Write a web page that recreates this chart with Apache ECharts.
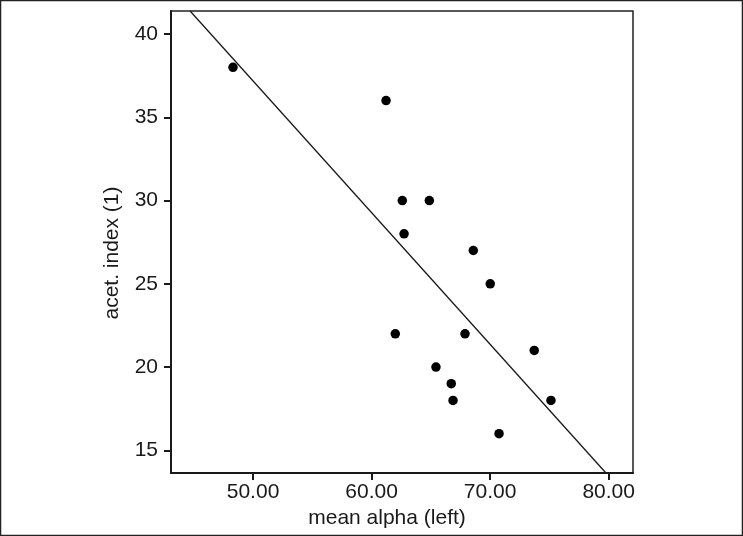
<!DOCTYPE html>
<html><head><meta charset="utf-8">
<script src="https://cdn.jsdelivr.net/npm/echarts@6/dist/echarts.min.js"></script>
<style>html,body{margin:0;padding:0;background:#fff}#c{width:743px;height:536px}</style>
</head><body><div id="c"></div>
<script>
var meanAlpha = [48.31, 61.22, 62.59, 64.87, 62.74, 68.58, 70.01, 62.0, 67.88, 73.72, 65.43, 66.72, 66.87, 75.13, 70.75];
var acetIndex = [38, 36, 30, 30, 28, 27, 25, 22, 22, 21, 20, 19, 18, 18, 16];
var fitX = [44.69, 79.77];
var fitY = [41.38, 13.64];
var xTicks = [50, 60, 70, 80];
var yTicks = [15, 20, 25, 30, 35, 40];

var points = meanAlpha.map(function (x, i) { return [x, acetIndex[i]]; });
var fitLine = fitX.map(function (x, i) { return [x, fitY[i]]; });
var font = '"Liberation Sans", Arial, sans-serif';
var chart = echarts.init(document.getElementById('c'));
chart.setOption({
  animation: false,
  backgroundColor: '#fff',
  graphic: [{ type: 'rect', shape: { x: 0.5, y: 0.5, width: 742, height: 535 }, style: { fill: null, stroke: '#222', lineWidth: 1.5 }, silent: true }],
  grid: { left: 171, top: 11, right: 110, bottom: 63, show: true, borderColor: '#222', borderWidth: 1.5, backgroundColor: 'transparent' },
  xAxis: {
    type: 'value', min: 43.08, max: 82.05,
    name: 'mean alpha (left)', nameLocation: 'middle', nameGap: 30,
    nameTextStyle: { fontFamily: font, fontSize: 21, color: '#1a1a1a', padding: [0, 30, 0, 0] },
    axisLine: { show: true, onZero: false, lineStyle: { color: '#1a1a1a', width: 2 } },
    axisTick: { show: true, length: 7, customValues: xTicks, lineStyle: { color: '#1a1a1a', width: 2 } },
    axisLabel: { customValues: xTicks, margin: 9, fontFamily: font, fontSize: 21, color: '#1a1a1a', formatter: function (v) { return v.toFixed(2); } },
    splitLine: { show: false }
  },
  yAxis: {
    type: 'value', min: 13.64, max: 41.38,
    name: 'acet. index (1)', nameLocation: 'middle', nameGap: 48,
    nameTextStyle: { fontFamily: font, fontSize: 21, color: '#1a1a1a', padding: [0, 22, 0, 0] },
    axisLine: { show: true, onZero: false, lineStyle: { color: '#1a1a1a', width: 2 } },
    axisTick: { show: true, length: 7, customValues: yTicks, lineStyle: { color: '#1a1a1a', width: 2 } },
    axisLabel: { customValues: yTicks, margin: 13, fontFamily: font, fontSize: 21, color: '#1a1a1a' },
    splitLine: { show: false }
  },
  series: [
    { type: 'line', data: fitLine, symbol: 'none', clip: true, lineStyle: { color: '#1a1a1a', width: 1.3 }, silent: true },
    { type: 'scatter', data: points, symbol: 'circle', symbolSize: 9.5, itemStyle: { color: '#000', opacity: 1 } }
  ]
});
</script></body></html>
